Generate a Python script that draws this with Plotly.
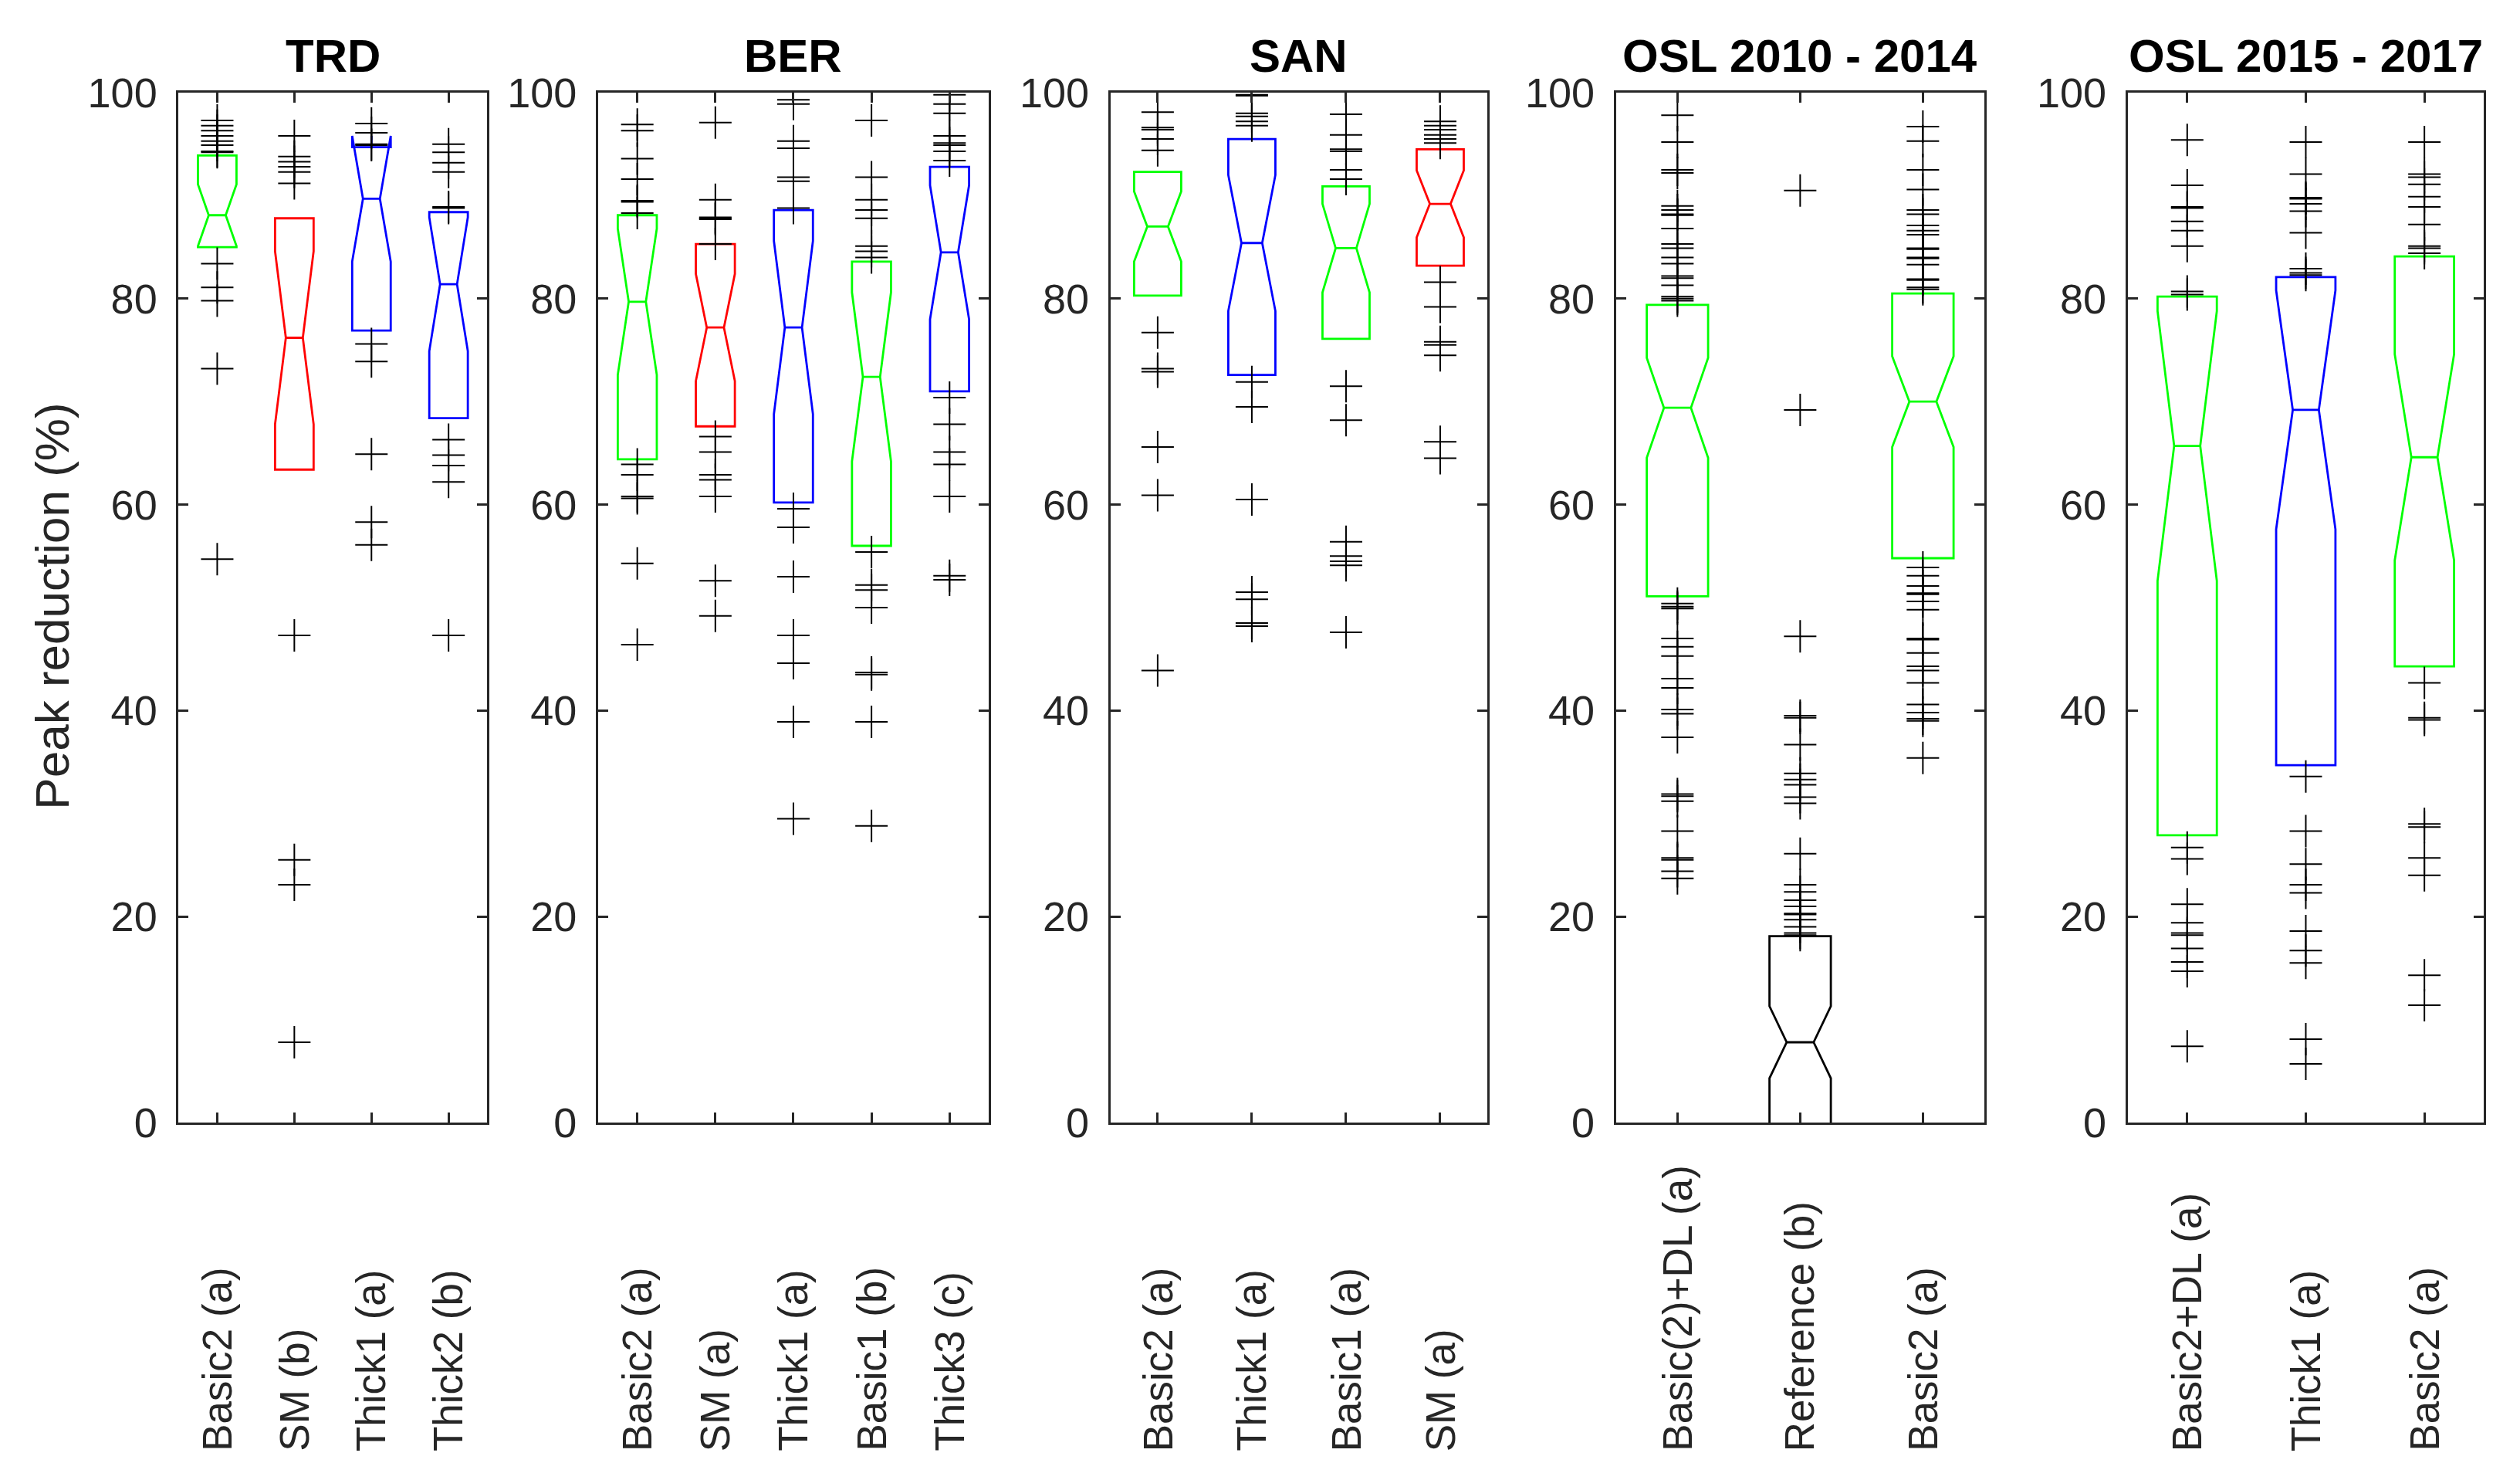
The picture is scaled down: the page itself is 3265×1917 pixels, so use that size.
import plotly.graph_objects as go

# ---- data (peak reduction, %) ----
panel_titles = ["TRD", "BER", "SAN", "OSL 2010 - 2014", "OSL 2015 - 2017"]
y_title = "Peak reduction (%)"

trd_labels = ["Basic2 (a)", "SM (b)", "Thick1 (a)", "Thick2 (b)"]
trd_q1 = [85.0, 63.4, 76.9, 68.4]
trd_median = [88.1, 76.2, 89.7, 81.4]
trd_q3 = [93.9, 87.8, 94.7, 88.4]
trd_notch = [3.0, 8.4, 6.1, 6.5]
trd_outliers = [
    [97.3, 96.8, 96.3, 95.8, 95.3, 94.9, 94.3, 94.2, 83.4, 81.1, 79.8, 73.2, 54.7],
    [95.8, 93.8, 93.3, 92.8, 92.3, 91.2, 47.3, 25.5, 23.1, 7.8],
    [97.0, 96.1, 95.0, 94.9, 75.6, 73.9, 64.9, 58.3, 56.1],
    [95.0, 94.2, 93.2, 92.3, 88.9, 88.8, 66.3, 64.8, 63.8, 62.2, 47.3],
]

ber_labels = ["Basic2 (a)", "SM (a)", "Thick1 (a)", "Basic1 (b)", "Thick3 (c)"]
ber_q1 = [64.4, 67.6, 60.2, 56.0, 71.0]
ber_median = [79.7, 77.2, 77.2, 72.4, 84.5]
ber_q3 = [88.1, 85.3, 88.6, 83.6, 92.8]
ber_notch = [7.1, 5.2, 8.4, 8.2, 6.5]
ber_outliers = [
    [96.9, 96.3, 93.6, 91.6, 89.5, 89.4, 88.3, 63.9, 62.9, 60.8, 60.6, 54.3, 46.4],
    [97.1, 89.6, 87.9, 87.8, 87.7, 85.3, 66.6, 65.1, 62.9, 62.4, 60.8, 52.6, 49.2],
    [99.3, 98.9, 95.3, 94.6, 91.8, 91.4, 88.8, 59.6, 57.8, 53.0, 47.3, 44.6, 38.9, 29.5],
    [97.3, 91.8, 89.6, 88.6, 87.8, 85.1, 84.6, 84.0, 55.4, 52.2, 51.7, 50.0, 43.7, 43.5,
     38.9, 28.8],
    [99.8, 98.9, 98.0, 95.8, 95.1, 94.9, 94.3, 93.4, 70.4, 67.8, 65.1, 63.9, 60.8, 53.1, 52.7],
]

san_labels = ["Basic2 (a)", "Thick1 (a)", "Basic1 (a)", "SM (a)"]
san_q1 = [80.3, 72.6, 76.1, 83.2]
san_median = [87.0, 85.4, 84.9, 89.2]
san_q3 = [92.3, 95.5, 90.9, 94.5]
san_notch = [3.4, 6.6, 4.3, 3.25]
san_outliers = [
    [98.1, 96.6, 96.4, 95.5, 94.4, 76.7, 73.2, 72.9, 65.6, 60.9, 43.9],
    [99.8, 99.7, 98.0, 97.7, 97.2, 96.8, 71.9, 69.5, 60.5, 51.5, 50.8, 48.5, 48.2],
    [97.9, 95.9, 94.5, 94.3, 92.5, 91.6, 71.5, 68.2, 56.4, 55.0, 54.5, 54.1, 47.6],
    [97.2, 96.8, 96.4, 95.9, 95.5, 95.1, 81.6, 79.2, 75.8, 75.5, 74.5, 66.1, 64.5],
]

osl1_labels = ["Basic(2)+DL (a)", "Reference (b)", "Basic2 (a)"]
osl1_q1 = [51.1, -5.0, 54.8]
osl1_median = [69.4, 7.8, 70.0]
osl1_q3 = [79.4, 18.1, 80.5]
osl1_notch = [4.85, 3.5, 4.4]
osl1_outliers = [
    [97.8, 95.2, 92.5, 92.2, 89.0, 88.6, 88.2, 88.1, 86.8, 85.3, 84.9, 84.0, 83.4, 82.2,
     82.0, 81.3, 80.2, 80.0, 79.8,
     50.4, 50.1, 49.9, 47.0, 46.2, 45.3, 43.1, 42.2, 40.1, 39.7, 37.4, 31.9, 31.7, 31.2,
     28.3, 25.7, 25.5, 24.4, 23.7],
    [90.5, 69.2, 47.2, 39.5, 39.3, 36.7, 33.9, 33.3, 32.8, 31.6, 31.0, 26.1, 23.1, 22.4,
     21.6, 21.0, 20.3, 20.2, 19.7, 19.0, 18.4, 18.2],
    [96.7, 95.3, 92.5, 90.6, 88.6, 88.2, 87.1, 86.6, 86.2, 84.9, 84.8, 84.0, 83.9, 83.3,
     81.9, 81.8, 81.1, 80.9,
     53.9, 53.1, 52.1, 51.4, 51.3, 50.6, 49.8, 47.0, 46.9, 45.6, 44.3, 43.9, 42.7, 40.6,
     39.8, 39.2, 39.0, 35.4],
]

osl2_labels = ["Basic2+DL (a)", "Thick1 (a)", "Basic2 (a)"]
osl2_q1 = [27.9, 34.7, 44.3]
osl2_median = [65.7, 69.2, 64.6]
osl2_q3 = [80.2, 82.1, 84.1]
osl2_notch = [13.1, 11.6, 10.0]
osl2_outliers = [
    [95.4, 91.0, 88.9, 88.8, 87.5, 86.6, 85.1, 80.7, 80.4, 26.7, 25.6, 21.2, 19.4, 18.4,
     18.2, 16.9, 15.6, 14.7, 7.4],
    [95.2, 92.1, 89.8, 89.7, 89.2, 88.5, 86.4, 82.9, 82.5, 82.3, 33.6, 28.3, 25.1, 23.1,
     22.3, 18.6, 16.7, 15.5, 8.1, 5.7],
    [95.2, 92.1, 91.8, 91.1, 89.9, 88.9, 87.2, 85.1, 84.9, 84.4, 42.7, 39.3, 39.1, 29.0,
     28.7, 25.7, 24.0, 14.3, 11.4],
]

# ---- styling ----
GREEN, RED, BLUE, BLACK = "#00ff00", "#ff0000", "#0000ff", "#000000"
panel_colors = [
    [GREEN, RED, BLUE, BLUE],
    [GREEN, RED, BLUE, GREEN, BLUE],
    [GREEN, BLUE, GREEN, RED],
    [GREEN, BLACK, GREEN],
    [GREEN, BLUE, GREEN],
]
# page has an 8px body margin; nudge the layout back by that much
DX = -8 / 3265
DY = 8 / 1917
domains = [(0.0709, 0.1933), (0.2374, 0.3923), (0.4407, 0.5902),
           (0.6413, 0.7874), (0.8444, 0.9856)]
domains = [(a + DX, b + DX) for a, b in domains]
y_dom = (0.2415 + DY, 0.9374 + DY)
AXIS = "#262626"
FONT = "Liberation Sans, Arial, sans-serif"

panels = [
    (trd_labels, trd_q1, trd_median, trd_q3, trd_notch, trd_outliers),
    (ber_labels, ber_q1, ber_median, ber_q3, ber_notch, ber_outliers),
    (san_labels, san_q1, san_median, san_q3, san_notch, san_outliers),
    (osl1_labels, osl1_q1, osl1_median, osl1_q3, osl1_notch, osl1_outliers),
    (osl2_labels, osl2_q1, osl2_median, osl2_q3, osl2_notch, osl2_outliers),
]

fig = go.Figure()
annotations = []
layout = {}

for k, (labels, q1, med, q3, notch, outs) in enumerate(panels):
    n = k + 1
    xa = "x" if n == 1 else "x%d" % n
    ya = "y" if n == 1 else "y%d" % n
    for i, lab in enumerate(labels):
        pos = i + 1
        fig.add_trace(go.Box(
            x=[pos], q1=[q1[i]], median=[med[i]], q3=[q3[i]],
            lowerfence=[q1[i]], upperfence=[q3[i]], notchspan=[notch[i]],
            notched=True, notchwidth=0.28, width=0.5, whiskerwidth=0,
            boxpoints=False, line=dict(color=panel_colors[k][i], width=2.8),
            fillcolor="rgba(0,0,0,0)", xaxis=xa, yaxis=ya, showlegend=False,
        ))
        fig.add_trace(go.Scatter(
            x=[pos] * len(outs[i]), y=outs[i], mode="markers",
            marker=dict(symbol="cross-thin", size=30, color=BLACK,
                        line=dict(width=2, color=BLACK)),
            xaxis=xa, yaxis=ya, showlegend=False, hoverinfo="y",
        ))
        annotations.append(dict(
            text=lab, x=pos, xref=xa, y=0.0225, yref="paper",
            xanchor="center", yanchor="bottom", textangle=-90, showarrow=False,
            font=dict(family=FONT, size=53, color=AXIS),
        ))

    annotations.append(dict(
        text="<b>%s</b>" % panel_titles[k],
        x=(domains[k][0] + domains[k][1]) / 2, xref="paper", xanchor="center",
        y=y_dom[1], yref="paper", yanchor="bottom", yshift=12, showarrow=False,
        font=dict(family=FONT, size=60, color="black"),
    ))

    common = dict(showline=True, linecolor=AXIS, linewidth=3, mirror="ticks",
                  ticks="inside", ticklen=13, tickwidth=3, tickcolor=AXIS,
                  showgrid=False, zeroline=False, automargin=False)
    layout["xaxis" if n == 1 else "xaxis%d" % n] = dict(
        domain=list(domains[k]), anchor=ya, range=[0.5, len(labels) + 0.5],
        tickvals=list(range(1, len(labels) + 1)), showticklabels=False, **common)
    layout["yaxis" if n == 1 else "yaxis%d" % n] = dict(
        domain=list(y_dom), anchor=xa, range=[0, 100],
        tickvals=[0, 20, 40, 60, 80, 100], ticklabelstandoff=14,
        tickfont=dict(family=FONT, size=54, color=AXIS), **common)

# shared y label, placed like the reference's
annotations.append(dict(
    text=y_title, x=0.0181, xref="paper", y=0.5944, yref="paper",
    xanchor="center", yanchor="middle", textangle=-90, showarrow=False,
    font=dict(family=FONT, size=62, color=AXIS),
))

fig.update_layout(
    width=3265, height=1917, margin=dict(l=0, r=0, t=0, b=0),
    paper_bgcolor="white", plot_bgcolor="white", boxmode="overlay",
    annotations=annotations, font=dict(family=FONT), **layout,
)

fig.write_html("out.html")
